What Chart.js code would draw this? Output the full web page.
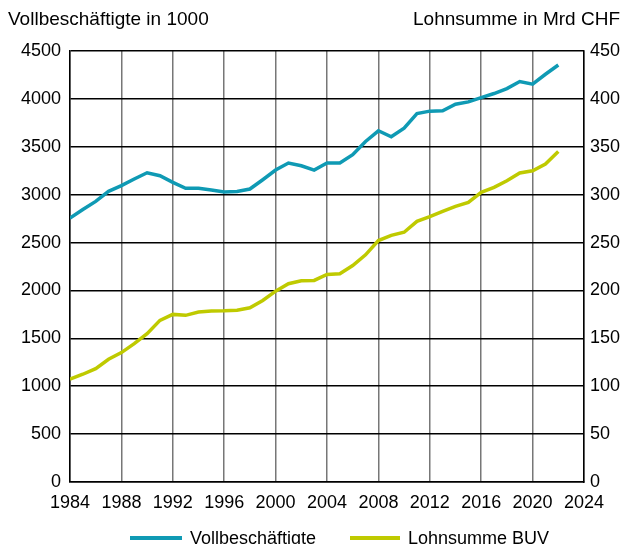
<!DOCTYPE html>
<html><head><meta charset="utf-8">
<script src="https://cdn.jsdelivr.net/npm/chart.js@4"></script>
<style>
html,body{margin:0;padding:0;background:#fff;}
#wrap{position:relative;width:628px;height:544px;overflow:hidden;font-family:"Liberation Sans",Arial,sans-serif;color:#000;}
canvas{position:absolute;left:0;top:0;}
.t{position:absolute;font-size:19px;white-space:nowrap;line-height:19px;}
.leg{position:absolute;top:529px;font-size:18px;line-height:18px;white-space:nowrap;}
.sw{position:absolute;height:4px;top:536px;}
</style></head><body>
<div id="wrap">
<canvas id="c" width="628" height="544"></canvas>
<div class="t" style="left:8px;top:9px">Vollbeschäftigte in 1000</div>
<div class="t" style="right:8px;top:9px">Lohnsumme in Mrd CHF</div>
<div class="sw" style="left:130px;width:52px;background:#0f9ab4"></div>
<div class="leg" style="left:190px">Vollbeschäftigte</div>
<div class="sw" style="left:350px;width:50px;background:#bfca00"></div>
<div class="leg" style="left:408px">Lohnsumme BUV</div>
</div>
<script>
const years = [1984,1985,1986,1987,1988,1989,1990,1991,1992,1993,1994,1995,1996,1997,1998,1999,2000,2001,2002,2003,2004,2005,2006,2007,2008,2009,2010,2011,2012,2013,2014,2015,2016,2017,2018,2019,2020,2021,2022];
const vollbeschaeftigte = [2755,2845,2930,3035,3094,3163,3229,3198,3128,3066,3066,3049,3028,3033,3059,3156,3257,3330,3302,3257,3330,3330,3417,3556,3667,3604,3695,3847,3872,3875,3945,3969,4014,4056,4108,4181,4153,4257,4354];
const lohnsumme = [107.3,112.5,118.4,128.1,135.1,144.4,154.9,168.8,175.0,174.0,177.4,178.5,178.8,179.4,181.9,189.6,199.3,207.0,210.1,210.5,216.7,217.4,226.0,237.2,252.1,257.5,260.8,272.2,277.1,282.6,287.8,292.0,302.4,307.6,314.6,322.6,325.0,332.0,345.1];
const xTicks = [1984,1988,1992,1996,2000,2004,2008,2012,2016,2020,2024];
const leftTicks = [0,500,1000,1500,2000,2500,3000,3500,4000,4500];
const rightTicks = [0,50,100,150,200,250,300,350,400,450];

const FONT = {family:"'Liberation Sans', Arial, sans-serif", size:18};
new Chart(document.getElementById('c'), {
  type:'line',
  data:{
    datasets:[
      {label:'Vollbeschäftigte', data:years.map((y,i)=>({x:y,y:vollbeschaeftigte[i]})), borderColor:'#0f9ab4', backgroundColor:'#0f9ab4', borderWidth:3.5, pointRadius:0, yAxisID:'y', tension:0},
      {label:'Lohnsumme BUV', data:years.map((y,i)=>({x:y,y:lohnsumme[i]})), borderColor:'#bfca00', backgroundColor:'#bfca00', borderWidth:3.5, pointRadius:0, yAxisID:'y2', tension:0}
    ]
  },
  options:{
    responsive:false, animation:false,
    layout:{padding:{top:51,left:0,right:0,bottom:0}},
    plugins:{legend:{display:false}, tooltip:{enabled:false}},
    scales:{
      x:{type:'linear', min:xTicks[0], max:xTicks[xTicks.length-1],
        afterBuildTicks:s=>{s.ticks=xTicks.map(v=>({value:v}));},
        ticks:{color:'#000', font:FONT, padding:10, maxRotation:0, callback:v=>String(v)},
        grid:{color:'#777', lineWidth:1.5, drawTicks:false},
        border:{color:'#000', width:1.5},
        afterFit:s=>{s.height=62;}
      },
      y:{position:'left', min:0, max:4500,
        afterBuildTicks:s=>{s.ticks=leftTicks.map(v=>({value:v}));},
        ticks:{color:'#000', font:FONT, padding:9, callback:v=>String(v)},
        grid:{color:'#000', lineWidth:1.5, drawTicks:false},
        border:{color:'#000', width:1.5},
        afterFit:s=>{s.width=70;}
      },
      y2:{position:'right', min:0, max:450,
        afterBuildTicks:s=>{s.ticks=rightTicks.map(v=>({value:v}));},
        ticks:{color:'#000', font:FONT, padding:6, callback:v=>String(v)},
        grid:{drawOnChartArea:false, drawTicks:false},
        border:{color:'#000', width:1.5},
        afterFit:s=>{s.width=44;}
      }
    }
  }
});
</script>
</body></html>
